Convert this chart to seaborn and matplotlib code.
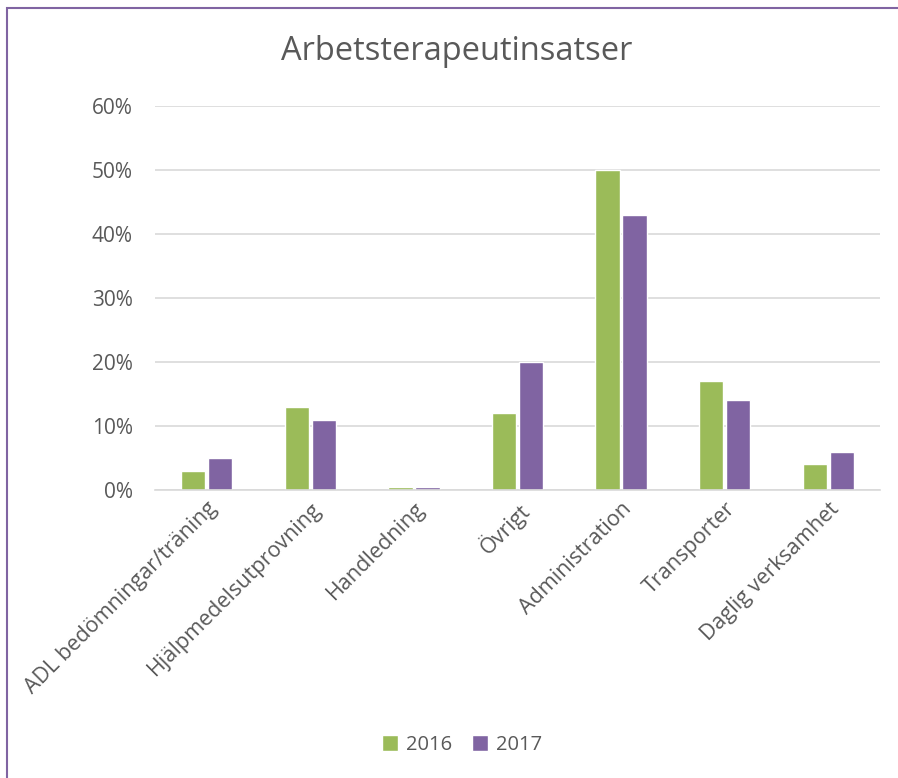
import matplotlib
matplotlib.use("Agg")
import matplotlib.pyplot as plt
import seaborn as sns
import pandas as pd
from matplotlib.patches import Rectangle
from matplotlib.ticker import PercentFormatter

categories = ["ADL bedömningar/träning", "Hjälpmedelsutprovning", "Handledning",
              "Övrigt", "Administration", "Transporter", "Daglig verksamhet"]
values_2016 = [3, 13, 0.5, 12, 50, 17, 4]
values_2017 = [5, 11, 0.5, 20, 43, 14, 6]
years = ["2016", "2017"]
colors = ["#9BBB59", "#8064A2"]
title = "Arbetsterapeutinsatser"

df = pd.DataFrame({
    "cat": categories * 2,
    "val": values_2016 + values_2017,
    "year": [years[0]] * len(categories) + [years[1]] * len(categories),
})

sns.set_theme(style="white")
plt.rcParams['font.family'] = ['Open Sans', 'DejaVu Sans']
text_color = "#595959"

fig = plt.figure(figsize=(8.98, 7.78), dpi=100)
ax = fig.add_axes([155/898, 1 - 490/778, (880-155)/898, (490-106)/778])

sns.barplot(data=df, x="cat", y="val", hue="year", palette=colors,
            width=0.52, gap=0.1, ax=ax, saturation=1, legend=True)

ax.set_ylim(0, 60)
ax.set_yticks(range(0, 61, 10))
ax.yaxis.set_major_formatter(PercentFormatter(decimals=0))
ax.grid(axis="y", color="#D9D9D9", linewidth=1.2)
ax.set_axisbelow(True)
for s in ["top", "right", "left"]:
    ax.spines[s].set_visible(False)
ax.spines["bottom"].set_color("#D9D9D9")
ax.spines["bottom"].set_linewidth(1.2)
ax.set_xlabel("")
ax.set_ylabel("")
ax.tick_params(axis="y", labelsize=15, colors=text_color, length=0, pad=16)
ax.tick_params(axis="x", labelsize=15.5, colors=text_color, length=0, pad=6)
for lbl in ax.get_xticklabels():
    lbl.set_rotation(45)
    lbl.set_ha("right")
    lbl.set_rotation_mode("anchor")

ax.legend_.remove()
handles, labels = ax.get_legend_handles_labels()
fig.legend(handles, labels, loc="center", bbox_to_anchor=(462/898, 1 - 745/778),
           ncol=2, frameon=False, fontsize=14.5, handlelength=0.8, handleheight=0.8,
           columnspacing=1.0, handletextpad=0.4, labelcolor=text_color)

fig.text(457/898, 1 - 52/778, title, ha="center", va="center", fontsize=23.5, color=text_color)

fig.patches.append(Rectangle((7/898, -0.1), 1.5, 1 - 8/778 + 0.1, transform=fig.transFigure,
                             fill=False, edgecolor="#8064A2", linewidth=1.5))

fig.savefig("out.png", dpi=100)
